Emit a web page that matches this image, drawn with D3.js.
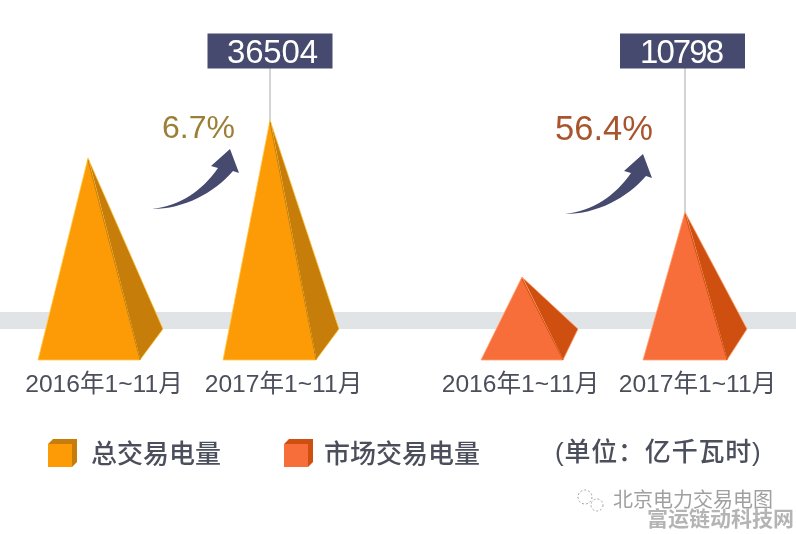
<!DOCTYPE html>
<html>
<head>
<meta charset="utf-8">
<script src="https://cdn.jsdelivr.net/npm/d3@7"></script>
<style>
  html, body { margin: 0; padding: 0; background: #fff; }
  text { font-family: "Liberation Sans", "Noto Sans CJK SC", sans-serif; }
  svg { filter: blur(0.4px); }
</style>
</head>
<body>
<div id="chart"></div>
<script>
// Data. The 2016 values are not printed, they follow from the growth labels.
const periods = ['2016年1~11月', '2017年1~11月', '2016年1~11月', '2017年1~11月']
const keys = ['total2016', 'total2017', 'market2016', 'market2017']
const seriesNames = ['总交易电量', '市场交易电量']
const totalValues = [34212, 36504]
const marketValues = [6904, 10798]
const growthLabels = ['6.7%', '56.4%']
const unitLabel = '(单位：亿千瓦时)'
const watermarks = ['北京电力交易电图', '富运链动科技网']

const width = 796
const height = 534

const svg = d3.select('#chart')
  .append('svg')
    .attr('width', width)
    .attr('height', height)
    .style('display', 'block')

// Grey band behind the pyramids.
svg.append('rect')
  .attr('x', 0)
  .attr('y', 312)
  .attr('width', width)
  .attr('height', 17)
  .attr('fill', '#e1e4e6')

// The picture's heights are not proportional, so the scale is piecewise.
const y = d3.scaleLinear()
  .domain([0, marketValues[0], marketValues[1], totalValues[0], totalValues[1]])
  .range([360, 277, 212, 158, 120])

const apexX = d3.scaleOrdinal().domain(keys).range([88, 270, 522, 685])
const labelX = d3.scaleOrdinal().domain(keys).range([103.5, 283, 520, 697])
const baseLeft = d3.scaleOrdinal().domain(keys).range([38, 223, 481, 643])
const baseRight = d3.scaleOrdinal().domain(keys).range([140, 316, 563, 727])
const tipX = d3.scaleOrdinal().domain(keys).range([163, 339, 578, 747])

const colours = [
  { front: '#fd9b06', side: '#c67d0a', edge: '#ffc94a' },
  { front: '#f86e3a', side: '#cf4f10', edge: '#ffa26e' }
]

const rows = keys.map(function(key, i) {
  return {
    key: key,
    value: i < 2 ? totalValues[i] : marketValues[i - 2],
    colour: colours[i < 2 ? 0 : 1]
  }
})

const line = d3.line()
const tipY = 329

// Pyramids.
const pyramids = svg.selectAll('.pyramid')
  .data(rows)
  .enter()
  .append('g')
    .attr('class', 'pyramid')

pyramids.append('path')
  .attr('d', function(d) {
    return line([[apexX(d.key), y(d.value)], [baseRight(d.key), y(0)], [tipX(d.key), tipY]]) + 'Z'
  })
  .attr('fill', function(d) { return d.colour.side })
  .attr('stroke', function(d) { return d.colour.edge })
  .attr('stroke-width', 0.8)

pyramids.append('path')
  .attr('d', function(d) {
    return line([[apexX(d.key), y(d.value)], [baseLeft(d.key), y(0)], [baseRight(d.key), y(0)]]) + 'Z'
  })
  .attr('fill', function(d) { return d.colour.front })
  .attr('stroke', function(d) { return d.colour.edge })
  .attr('stroke-width', 0.8)

// Ridge without the light edge.
pyramids.append('line')
  .attr('x1', function(d) { return apexX(d.key) })
  .attr('y1', function(d) { return y(d.value) + 2 })
  .attr('x2', function(d) { return baseRight(d.key) })
  .attr('y2', y(0))
  .attr('stroke', function(d) { return d.colour.side })
  .attr('stroke-width', 1)

// Period labels under the pyramids.
const axis = d3.axisBottom(labelX)
  .tickSize(0)
  .tickFormat(function(d, i) { return periods[i] })

svg.append('g')
  .attr('transform', 'translate(0,' + 370 + ')')
  .call(axis)
  .call(function(g) { g.select('.domain').remove() })
  .selectAll('text')
    .attr('y', 0)
    .attr('dy', '0.9em')
    .attr('font-size', 24.6)
    .style('font-family', '"Liberation Sans", "Noto Sans CJK SC", sans-serif')
    .attr('fill', '#4b4f5c')

// Value boxes with leader lines, 2017 only.
const boxes = svg.selectAll('.valueBox')
  .data([rows[1], rows[3]])
  .enter()
  .append('g')
    .attr('class', 'valueBox')

boxes.append('line')
  .attr('x1', function(d) { return apexX(d.key) })
  .attr('x2', function(d) { return apexX(d.key) })
  .attr('y1', 68)
  .attr('y2', function(d) { return y(d.value) })
  .attr('stroke', '#a8a8ac')
  .attr('stroke-width', 1)

boxes.append('rect')
  .attr('x', function(d, i) { return [207.5, 620][i] })
  .attr('y', 33.5)
  .attr('width', 125)
  .attr('height', 35)
  .attr('fill', '#454a6e')

boxes.append('text')
  .attr('x', function(d, i) { return [272.5, 682][i] })
  .attr('y', 63)
  .attr('text-anchor', 'middle')
  .attr('font-size', 33)
  .attr('textLength', function(d, i) { return [91, 84][i] })
  .attr('lengthAdjust', 'spacing')
  .attr('fill', '#fff')
  .text(function(d) { return d.value })

// Growth labels.
svg.selectAll('.growth')
  .data(growthLabels)
  .enter()
  .append('text')
    .attr('class', 'growth')
    .attr('x', function(d, i) { return [198.5, 604][i] })
    .attr('y', function(d, i) { return [138, 140][i] })
    .attr('text-anchor', 'middle')
    .attr('font-size', function(d, i) { return [32, 34.5][i] })
    .attr('fill', function(d, i) { return ['#9a7f35', '#a8552e'][i] })
    .text(function(d) { return d })

// Curved growth arrows, same shape moved to each origin.
const arrowPath = 'M0,0 C28,-3 50,-18 66,-41 L59,-43 L78,-60 L87,-36 L81,-38 C62,-16 32,0 0,0 Z'
svg.selectAll('.arrow')
  .data([[152, 209], [565, 214]])
  .enter()
  .append('path')
    .attr('class', 'arrow')
    .attr('transform', function(d) { return 'translate(' + d[0] + ',' + d[1] + ')' })
    .attr('d', arrowPath)
    .attr('fill', '#454a6e')

// Legend.
const legend = svg.selectAll('.legendItem')
  .data(seriesNames)
  .enter()
  .append('g')
    .attr('class', 'legendItem')
    .attr('transform', function(d, i) { return 'translate(' + [48, 284][i] + ',439)' })

legend.append('path')
  .attr('d', line([[0, 5], [5, 0], [29, 0], [29, 23], [24, 28], [24, 5]]) + 'Z')
  .attr('fill', function(d, i) { return colours[i].side })

legend.append('rect')
  .attr('x', 0)
  .attr('y', 5)
  .attr('width', 24)
  .attr('height', 23)
  .attr('fill', function(d, i) { return colours[i].front })

legend.append('text')
  .attr('x', function(d, i) { return [43, 40][i] })
  .attr('y', 24)
  .attr('font-size', 26)
  .attr('font-weight', 500)
  .attr('fill', '#4b4f5c')
  .text(function(d) { return d })

svg.append('text')
  .attr('x', 555)
  .attr('y', 461)
  .attr('font-size', 26)
  .attr('font-weight', 500)
  .attr('letter-spacing', 0.8)
  .attr('fill', '#4b4f5c')
  .text(unitLabel)

// Watermarks.
svg.selectAll('.bubble')
  .data([[585, 497, 7], [597, 505, 6]])
  .enter()
  .append('circle')
    .attr('class', 'bubble')
    .attr('cx', function(d) { return d[0] })
    .attr('cy', function(d) { return d[1] })
    .attr('r', function(d) { return d[2] })
    .attr('fill', '#fff')
    .attr('stroke', '#a0a0a0')
    .attr('stroke-width', 1)
    .attr('stroke-dasharray', '2 2')

svg.append('text')
  .attr('x', 613)
  .attr('y', 507)
  .attr('font-size', 20)
  .attr('fill', '#a0a0a0')
  .text(watermarks[0])

svg.append('text')
  .attr('x', 647)
  .attr('y', 526)
  .attr('font-size', 21)
  .attr('font-weight', 'bold')
  .attr('fill', '#b4b4b4')
  .text(watermarks[1])
</script>
</body>
</html>
